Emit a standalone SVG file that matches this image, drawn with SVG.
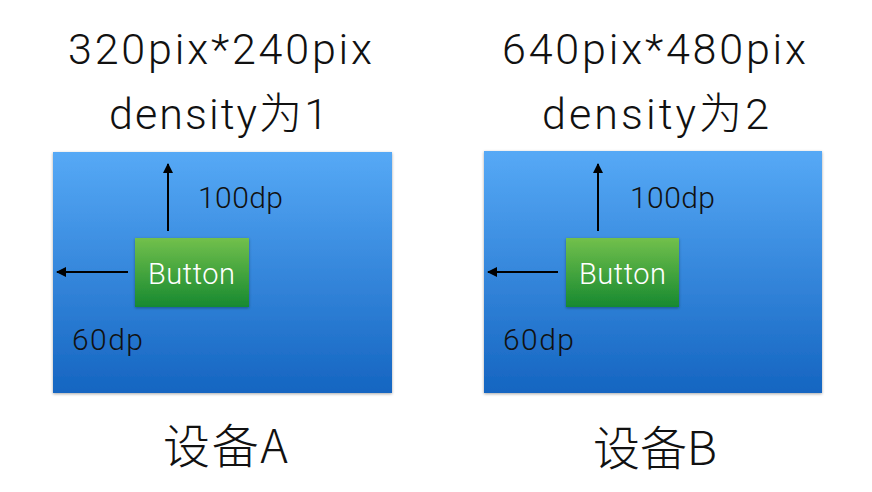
<svg xmlns="http://www.w3.org/2000/svg" width="872" height="492" viewBox="0 0 872 492">
  <style>
    .title { font-family: Roboto, "Liberation Sans", "Noto Sans CJK SC", sans-serif; font-weight: 300; font-size: 43px; fill: #111; }
    .dim { font-family: Roboto, "Liberation Sans", sans-serif; font-weight: 300; font-size: 30px; fill: #111; }
    .btn { font-family: Roboto, "Liberation Sans", sans-serif; font-weight: 300; font-size: 29px; fill: #ffffff; }
    .dev { font-family: "Noto Sans CJK SC", sans-serif; font-weight: 300; font-size: 47px; fill: #111; }
    .conn { stroke: #000; stroke-width: 2; fill: none; }
  </style>
  <defs>
    <linearGradient id="screen" x1="0" y1="0" x2="0" y2="1">
      <stop offset="0" stop-color="#56a9f6"/>
      <stop offset="1" stop-color="#1565c1"/>
    </linearGradient>
    <linearGradient id="green" x1="0" y1="0" x2="0" y2="1">
      <stop offset="0" stop-color="#72c04c"/>
      <stop offset="1" stop-color="#178930"/>
    </linearGradient>
    <filter id="shadow" x="-5%" y="-5%" width="110%" height="112%">
      <feDropShadow dx="0" dy="1" stdDeviation="1.5" flood-color="#000" flood-opacity="0.35"/>
    </filter>
    <marker id="arrow" viewBox="0 0 10 10" refX="9" refY="5" markerWidth="5" markerHeight="5" orient="auto" markerUnits="strokeWidth">
      <path d="M0,0 L10,5 L0,10 z" fill="#000"/>
    </marker>
  </defs>

  <g id="deviceA">
    <text class="title" x="68" y="64" textLength="304" lengthAdjust="spacing">320pix*240pix</text>
    <text class="title" x="109" y="129" textLength="219" lengthAdjust="spacing">density为1</text>
    <rect x="53" y="152" width="339" height="241" fill="url(#screen)" filter="url(#shadow)"/>
    <text class="dim" x="198" y="208" textLength="85" lengthAdjust="spacing">100dp</text>
    <text class="dim" x="72" y="350" textLength="71" lengthAdjust="spacing">60dp</text>
    <text class="dev" x="163" y="463" textLength="125" lengthAdjust="spacing">设备A</text>
  </g>
  <g id="buttonA">
    <rect x="135" y="238" width="114" height="69" fill="url(#green)" filter="url(#shadow)"/>
    <text class="btn" x="148" y="284" textLength="87" lengthAdjust="spacing">Button</text>
  </g>

  <g id="deviceB">
    <text class="title" x="502" y="64" textLength="304" lengthAdjust="spacing">640pix*480pix</text>
    <text class="title" x="542" y="129" textLength="227" lengthAdjust="spacing">density为2</text>
    <rect x="484" y="151" width="338" height="242" fill="url(#screen)" filter="url(#shadow)"/>
    <text class="dim" x="630" y="208" textLength="85" lengthAdjust="spacing">100dp</text>
    <text class="dim" x="503" y="350" textLength="71" lengthAdjust="spacing">60dp</text>
    <text class="dev" x="593" y="465" textLength="124" lengthAdjust="spacing">设备B</text>
  </g>
  <g id="buttonB">
    <rect x="566" y="238" width="113" height="69" fill="url(#green)" filter="url(#shadow)"/>
    <text class="btn" x="579" y="284" textLength="87" lengthAdjust="spacing">Button</text>
  </g>

  <g id="connectors">
    <line class="conn" x1="168" y1="231" x2="168" y2="164" marker-end="url(#arrow)"/>
    <line class="conn" x1="128" y1="272" x2="57" y2="272" marker-end="url(#arrow)"/>
    <line class="conn" x1="598" y1="231" x2="598" y2="164" marker-end="url(#arrow)"/>
    <line class="conn" x1="558" y1="272" x2="488" y2="272" marker-end="url(#arrow)"/>
  </g>
</svg>
